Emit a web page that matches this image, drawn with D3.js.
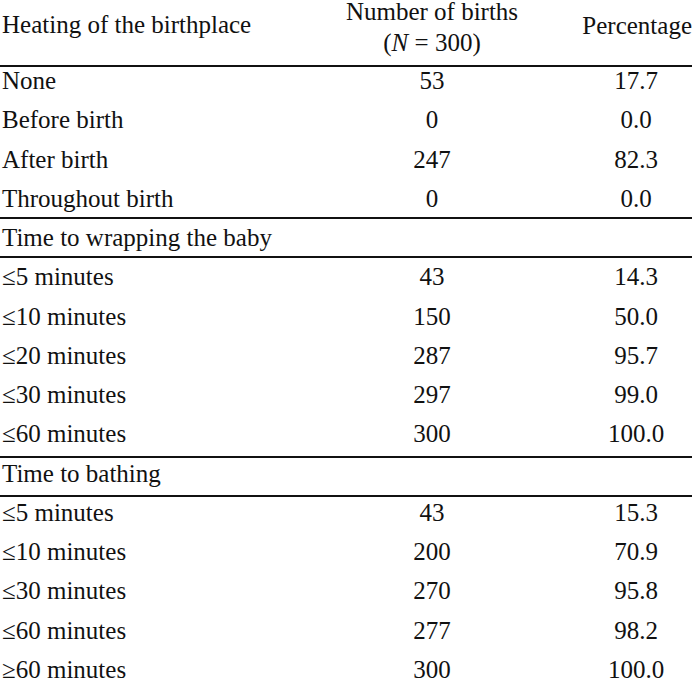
<!DOCTYPE html>
<html><head><meta charset="utf-8">
<script src="https://cdn.jsdelivr.net/npm/d3@7"></script>
<style>body{margin:0;background:#fff}</style></head>
<body><svg id="c" width="692" height="683"></svg>
<script>
const headers = ["Heating of the birthplace", "Number of births", "Percentage"];
const labels = ["None","Before birth","After birth","Throughout birth",
  "Time to wrapping the baby","≤5 minutes","≤10 minutes","≤20 minutes","≤30 minutes","≤60 minutes",
  "Time to bathing","≤5 minutes","≤10 minutes","≤30 minutes","≤60 minutes","≥60 minutes"];
const counts = ["53","0","247","0","","43","150","287","297","300","","43","200","270","277","300"];
const percents = ["17.7","0.0","82.3","0.0","","14.3","50.0","95.7","99.0","100.0","","15.3","70.9","95.8","98.2","100.0"];

const svg = d3.select("#c");
const font = "Liberation Serif, DejaVu Serif, serif";
const y = d3.scaleLinear().domain([0, 15]).range([81, 670]);
const fs = 25;
const t = (x, yy, s, anchor) => svg.append("text").attr("x", x).attr("y", yy).attr("dy", "0.32em")
  .attr("text-anchor", anchor).attr("font-family", font).attr("font-size", fs).attr("fill", "#111").text(s);

t(2, 25, headers[0], "start");
t(432, 12, headers[1], "middle");
const nt = svg.append("text").attr("x", 432).attr("y", 43).attr("dy", "0.32em").attr("text-anchor", "middle")
  .attr("font-family", font).attr("font-size", fs).attr("fill", "#111");
nt.append("tspan").text("(");
nt.append("tspan").attr("font-style", "italic").text("N");
nt.append("tspan").text(" = 300)");
t(692, 26, headers[2], "end");

labels.forEach((l, i) => {
  t(2, y(i), l, "start");
  if (counts[i]) t(432, y(i), counts[i], "middle");
  if (percents[i]) t(636, y(i), percents[i], "middle");
});

const lines = [66, 218, 257, 457, 496];
svg.selectAll("line.r").data(lines).enter().append("line")
  .attr("x1", 0).attr("x2", 692).attr("y1", d => d).attr("y2", d => d)
  .attr("stroke", "#111").attr("stroke-width", 2.2);
</script></body></html>
